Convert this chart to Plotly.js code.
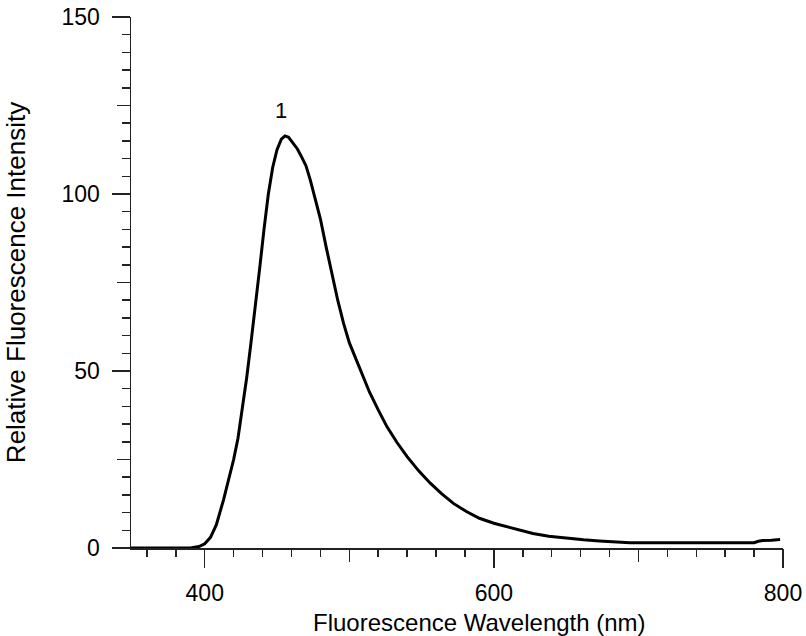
<!DOCTYPE html>
<html>
<head>
<meta charset="utf-8">
<script src="https://cdn.plot.ly/plotly-3.0.1.min.js"></script>
<style>html,body{margin:0;padding:0;background:#fff;}#chart{width:806px;height:636px;}</style>
</head>
<body>
<div id="chart"></div>
<script>
const wavelength = [349, 370, 390, 396, 400, 404, 408, 413, 417, 420, 423, 426, 429, 432, 435, 438, 441, 444, 447, 450, 453, 455.5, 458, 461, 464, 467, 470, 473, 476, 480, 484, 488, 492, 496, 500, 504, 509, 514, 520, 526, 533, 540, 548, 556, 564, 572, 581, 590, 600, 609, 618, 627, 638, 650, 662, 673, 684, 694, 740, 780, 783, 786, 792, 798];
const intensity  = [0, 0, 0, 0.4, 1.2, 3, 6.5, 13.6, 20, 25, 31, 39, 48, 58, 68, 79, 90, 100, 107.5, 112.5, 115.5, 116.4, 116, 114.5, 112.8, 110.5, 108, 104, 99.5, 93, 85, 77.5, 70, 63.5, 58, 54, 49, 44, 39, 34.3, 29.8, 25.8, 21.8, 18.3, 15.3, 12.6, 10.3, 8.4, 7, 6, 5, 4.1, 3.3, 2.7, 2.3, 2.0, 1.7, 1.5, 1.5, 1.5, 1.9, 2.1, 2.2, 2.4];
const peakLabel = "1";
const peakWavelength = 453;
const peakLabelY = 123.5;
const xTitle = "Fluorescence Wavelength (nm)";
const yTitle = "Relative Fluorescence Intensity";

const FONT = "Liberation Sans, Arial, sans-serif";
const xRange = [349, 800];
const yRange = [0, 150];

const data = [
  {x: wavelength, y: intensity, type: 'scatter', mode: 'lines',
   line: {color: '#000', width: 3}, hoverinfo: 'skip', showlegend: false},
  {x: [], y: [], xaxis: 'x2', yaxis: 'y2', showlegend: false}
];

const layout = {
  width: 806, height: 636,
  margin: {l: 131, r: 23, t: 17, b: 88},
  paper_bgcolor: '#fff', plot_bgcolor: '#fff',
  font: {family: FONT, color: '#000', size: 23},
  showlegend: false,
  xaxis: {
    range: xRange, tick0: 0, dtick: 200, ticks: 'outside', ticklen: 18, tickwidth: 1.5, tickcolor: '#222',
    showline: true, linecolor: '#222', linewidth: 1.5, showgrid: false, zeroline: false,
    tickfont: {size: 23}, ticklabelstandoff: 6,
    minor: {dtick: 20, tick0: 0, ticks: 'outside', ticklen: 7, tickwidth: 1.5, tickcolor: '#222', showgrid: false}
  },
  yaxis: {
    range: yRange, tick0: 0, dtick: 50, ticks: 'outside', ticklen: 18, tickwidth: 1.5, tickcolor: '#222',
    showline: true, linecolor: '#222', linewidth: 1.5, showgrid: false, zeroline: false,
    tickfont: {size: 23}, ticklabelstandoff: 7,
    minor: {dtick: 5, tick0: 0, ticks: 'outside', ticklen: 8, tickwidth: 1.5, tickcolor: '#222', showgrid: false},
    title: {text: yTitle, font: {size: 26}, standoff: 28}
  },
  xaxis2: {
    overlaying: 'x', anchor: 'y2', side: 'bottom', range: xRange, tick0: 0, dtick: 100,
    ticks: 'outside', ticklen: 13, tickwidth: 1.5, tickcolor: '#222',
    showticklabels: false, showline: false, showgrid: false, zeroline: false
  },
  yaxis2: {
    overlaying: 'y', anchor: 'x2', side: 'left', range: yRange, tick0: 0, dtick: 25,
    ticks: 'outside', ticklen: 13, tickwidth: 1.5, tickcolor: '#222',
    showticklabels: false, showline: false, showgrid: false, zeroline: false
  },
  annotations: [
    {x: peakWavelength, y: peakLabelY, xref: 'x', yref: 'y', text: peakLabel,
     showarrow: false, font: {size: 22, family: FONT, color: '#000'}},
    {x: 0.535, y: -0.1394, xref: 'paper', yref: 'paper', text: xTitle, xanchor: 'center', yanchor: 'middle',
     showarrow: false, font: {size: 24, family: FONT, color: '#000'}}
  ]
};

Plotly.newPlot('chart', data, layout, {displayModeBar: false, staticPlot: true});
</script>
</body>
</html>
